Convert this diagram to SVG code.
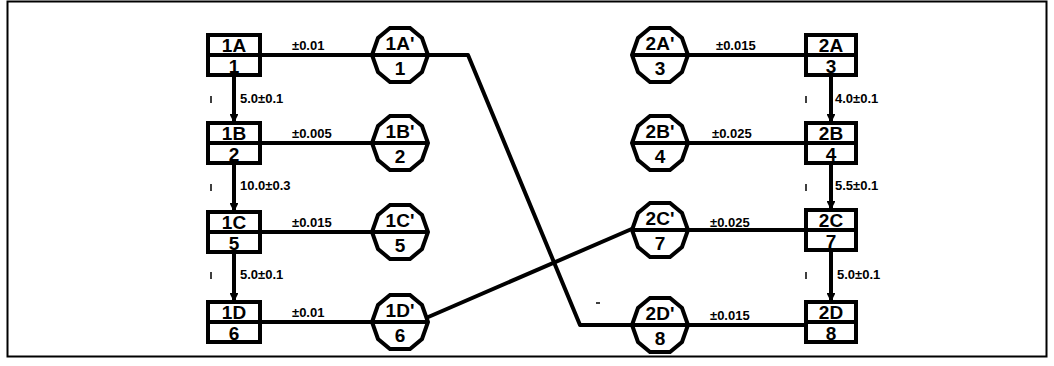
<svg xmlns="http://www.w3.org/2000/svg" width="1054" height="366" viewBox="0 0 1054 366">
<defs>
<style>
.ln{stroke:#000;stroke-width:4;fill:none;stroke-linejoin:round}
.box{stroke:#000;stroke-width:4;fill:#fff}
.t{font-family:"Liberation Sans",Arial,sans-serif;font-weight:bold;fill:#000;text-anchor:middle}
.nt{font-size:19px}
.el{font-size:13px;text-anchor:start}
.tick{stroke:#000;stroke-width:1.5}
</style>
<polygon id="oct" points="-10,-27 10,-27 22,-17 28,0 22,17 10,27 -10,27 -22,17 -28,0 -22,-17" class="box"/>
<marker id="ah" viewBox="0 0 10 10" refX="9" refY="5" markerWidth="2.2" markerHeight="2.2" orient="auto"><path d="M0,0 L10,5 L0,10 z" fill="#000"/></marker>
</defs>
<rect x="7.5" y="1.5" width="1039" height="355" fill="#fff" stroke="#000" stroke-width="2"/>
<g id="connectors">
<path class="ln" d="M260,55 H372"/>
<path class="ln" d="M260,143 H372"/>
<path class="ln" d="M260,232 H372"/>
<path class="ln" d="M260,322 H372"/>
<path class="ln" d="M688,55 H806"/>
<path class="ln" d="M688,143 H806"/>
<path class="ln" d="M688,230 H806"/>
<path class="ln" d="M688,325 H806"/>
<path class="ln" d="M428,55 H468 L580,325 H632"/>
<path class="ln" d="M426,318 L634,228"/>
<path class="ln" d="M234,75 V122" marker-end="url(#ah)"/>
<path class="ln" d="M234,163 V211" marker-end="url(#ah)"/>
<path class="ln" d="M234,252 V301" marker-end="url(#ah)"/>
<path class="ln" d="M831,75 V122" marker-end="url(#ah)"/>
<path class="ln" d="M831,163 V209" marker-end="url(#ah)"/>
<path class="ln" d="M831,250 V301" marker-end="url(#ah)"/>
<text class="t el" x="292" y="50">±0.01</text>
<text class="t el" x="292" y="138">±0.005</text>
<text class="t el" x="292" y="227">±0.015</text>
<text class="t el" x="292" y="317">±0.01</text>
<text class="t el" x="716" y="50">±0.015</text>
<text class="t el" x="712" y="138">±0.025</text>
<text class="t el" x="710" y="227">±0.025</text>
<text class="t el" x="710" y="320">±0.015</text>
<text class="t el" x="240" y="103">5.0±0.1</text>
<text class="t el" x="240" y="190">10.0±0.3</text>
<text class="t el" x="240" y="279">5.0±0.1</text>
<text class="t el" x="835" y="103">4.0±0.1</text>
<text class="t el" x="835" y="190">5.5±0.1</text>
<text class="t el" x="837" y="279">5.0±0.1</text>
<path class="tick" d="M211,96 V103 M211,184 V191 M211,272 V279 M806,96 V103 M806,184 V191 M806,272 V279 M596,303 H600"/>
</g>
<g id="n1A"><rect class="box" x="208" y="35" width="52" height="40"/><path class="ln" d="M208,55 H260"/><text class="t nt" x="234" y="52">1A</text><text class="t nt" x="234" y="73">1</text></g>
<g id="n1B"><rect class="box" x="208" y="123" width="52" height="40"/><path class="ln" d="M208,143 H260"/><text class="t nt" x="234" y="140">1B</text><text class="t nt" x="234" y="161">2</text></g>
<g id="n1C"><rect class="box" x="208" y="212" width="52" height="40"/><path class="ln" d="M208,232 H260"/><text class="t nt" x="234" y="229">1C</text><text class="t nt" x="234" y="250">5</text></g>
<g id="n1D"><rect class="box" x="208" y="302" width="52" height="40"/><path class="ln" d="M208,322 H260"/><text class="t nt" x="234" y="319">1D</text><text class="t nt" x="234" y="340">6</text></g>
<g id="n2A"><rect class="box" x="806" y="35" width="50" height="40"/><path class="ln" d="M806,55 H856"/><text class="t nt" x="831" y="52">2A</text><text class="t nt" x="831" y="73">3</text></g>
<g id="n2B"><rect class="box" x="806" y="123" width="50" height="40"/><path class="ln" d="M806,143 H856"/><text class="t nt" x="831" y="140">2B</text><text class="t nt" x="831" y="161">4</text></g>
<g id="n2C"><rect class="box" x="806" y="210" width="50" height="40"/><path class="ln" d="M806,230 H856"/><text class="t nt" x="831" y="227">2C</text><text class="t nt" x="831" y="248">7</text></g>
<g id="n2D"><rect class="box" x="806" y="302" width="50" height="40"/><path class="ln" d="M806,322 H856"/><text class="t nt" x="831" y="319">2D</text><text class="t nt" x="831" y="340">8</text></g>
<g id="n1Ap" transform="translate(400,55)"><use href="#oct"/><path class="ln" d="M-28,0 H28"/><text class="t nt" x="0" y="-5">1A'</text><text class="t nt" x="0" y="20">1</text></g>
<g id="n1Bp" transform="translate(400,143)"><use href="#oct"/><path class="ln" d="M-28,0 H28"/><text class="t nt" x="0" y="-5">1B'</text><text class="t nt" x="0" y="20">2</text></g>
<g id="n1Cp" transform="translate(400,232)"><use href="#oct"/><path class="ln" d="M-28,0 H28"/><text class="t nt" x="0" y="-5">1C'</text><text class="t nt" x="0" y="20">5</text></g>
<g id="n1Dp" transform="translate(400,322)"><use href="#oct"/><path class="ln" d="M-28,0 H28"/><text class="t nt" x="0" y="-5">1D'</text><text class="t nt" x="0" y="20">6</text></g>
<g id="n2Ap" transform="translate(660,55)"><use href="#oct"/><path class="ln" d="M-28,0 H28"/><text class="t nt" x="0" y="-5">2A'</text><text class="t nt" x="0" y="20">3</text></g>
<g id="n2Bp" transform="translate(660,143)"><use href="#oct"/><path class="ln" d="M-28,0 H28"/><text class="t nt" x="0" y="-5">2B'</text><text class="t nt" x="0" y="20">4</text></g>
<g id="n2Cp" transform="translate(660,230)"><use href="#oct"/><path class="ln" d="M-28,0 H28"/><text class="t nt" x="0" y="-5">2C'</text><text class="t nt" x="0" y="20">7</text></g>
<g id="n2Dp" transform="translate(660,325)"><use href="#oct"/><path class="ln" d="M-28,0 H28"/><text class="t nt" x="0" y="-5">2D'</text><text class="t nt" x="0" y="20">8</text></g>
</svg>
